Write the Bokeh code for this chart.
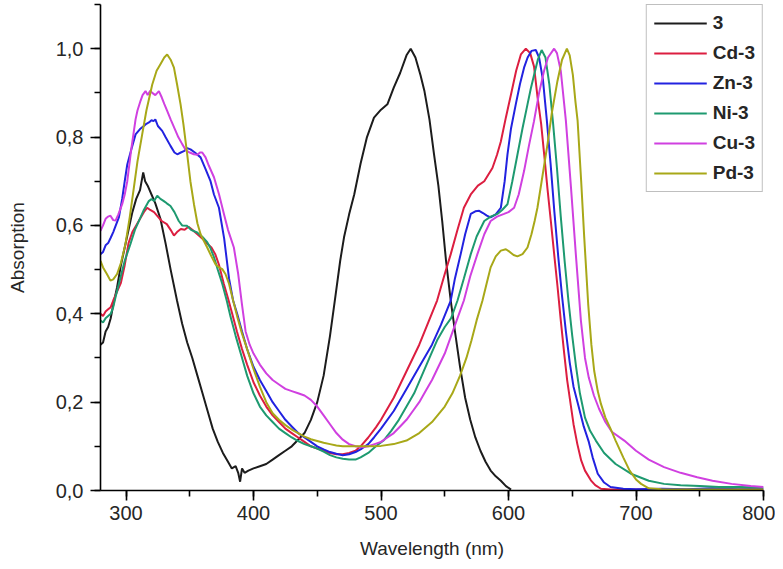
from bokeh.plotting import figure
from bokeh.models import Range1d, SingleIntervalTicker, CustomJSTickFormatter
from bokeh.embed import file_html
from bokeh.resources import INLINE

# ---- data ----
series_names = ["3", "Cd-3", "Zn-3", "Ni-3", "Cu-3", "Pd-3"]

wl_3 = [280, 282, 284, 286, 288, 290, 293, 296, 299, 302, 305, 308, 311, 313.5, 315, 317, 320, 323, 327, 331,
        335, 340, 344, 348, 352, 356, 360, 364, 368, 372, 376, 380, 383, 386, 388, 389.5, 391, 393, 396, 400,
        405, 410, 415, 420, 425, 430, 435, 440, 445, 450, 455, 460, 464.5, 468, 471, 475, 479, 484, 489, 494.5,
        500, 505, 510, 515, 520, 523.3, 527, 531, 534, 538, 541.6, 545, 548, 551, 554.7, 558, 562, 566, 570,
        574, 578, 582, 586, 590, 594, 598, 602]
abs_3 = [0.33, 0.335, 0.36, 0.37, 0.39, 0.42, 0.46, 0.51, 0.55, 0.59, 0.63, 0.66, 0.68, 0.72, 0.70, 0.69, 0.67,
         0.65, 0.615, 0.56, 0.50, 0.43, 0.378, 0.335, 0.30, 0.26, 0.22, 0.18, 0.14, 0.11, 0.085, 0.065, 0.05,
         0.055, 0.04, 0.02, 0.05, 0.04, 0.045, 0.05, 0.055, 0.06, 0.07, 0.08, 0.09, 0.10, 0.115, 0.13, 0.16,
         0.2, 0.26, 0.35, 0.445, 0.52, 0.573, 0.625, 0.67, 0.74, 0.80, 0.844, 0.862, 0.874, 0.912, 0.945,
         0.985, 1.0, 0.98, 0.94, 0.905, 0.84, 0.761, 0.69, 0.61, 0.52, 0.43, 0.36, 0.28, 0.21, 0.16, 0.12,
         0.09, 0.065, 0.045, 0.032, 0.022, 0.01, 0.002]

wl_cd = [280, 282, 284, 286, 288, 290, 293, 296, 299, 302, 305, 308, 311, 314, 316.6, 319, 322, 325, 328, 332,
         335, 337.6, 340, 343, 346, 349, 352, 356, 360, 364, 367, 370, 373, 376.7, 380, 383.3, 387, 391, 395,
         400, 405, 410, 415, 420, 425, 430, 435, 440, 445, 450, 455, 460, 465, 470, 475, 480, 484, 490, 496,
         500, 510, 520, 530, 537, 544, 550, 554.7, 560, 565, 570.4, 576, 581, 587.4, 591, 594, 598, 602, 606,
         609.7, 613.6, 617, 620, 622.8, 625.6, 628, 630.5, 633.2, 636, 638.5, 641, 643.7, 646, 648.5, 651, 654,
         657, 660, 664.6, 668, 672.5, 680, 700, 720, 740, 760, 780, 800]
abs_cd = [0.40, 0.395, 0.405, 0.41, 0.415, 0.43, 0.45, 0.47, 0.51, 0.56, 0.585, 0.60, 0.615, 0.63, 0.64, 0.635,
          0.63, 0.62, 0.61, 0.603, 0.59, 0.577, 0.585, 0.592, 0.59, 0.597, 0.59, 0.58, 0.57, 0.558, 0.55, 0.535,
          0.51, 0.468, 0.435, 0.40, 0.36, 0.32, 0.285, 0.245, 0.215, 0.19, 0.17, 0.155, 0.14, 0.13, 0.12, 0.11,
          0.10, 0.095, 0.09, 0.085, 0.082, 0.082, 0.085, 0.09, 0.10, 0.12, 0.143, 0.16, 0.21, 0.27, 0.33, 0.38,
          0.43, 0.49, 0.535, 0.59, 0.64, 0.67, 0.69, 0.70, 0.73, 0.76, 0.79, 0.845, 0.897, 0.95, 0.987, 1.0,
          0.99, 0.96, 0.89, 0.83, 0.76, 0.685, 0.61, 0.53, 0.46, 0.385, 0.31, 0.25, 0.2, 0.15, 0.105, 0.068,
          0.045, 0.023, 0.012, 0.004, 0.002, 0.002, 0.003, 0.002, 0.004, 0.002, 0.003]

wl_zn = [280, 282, 284, 286, 288, 290, 292, 294.4, 297, 299, 301, 304, 307.5, 311, 314, 316, 318, 320, 321.6,
         323, 325, 328.4, 331, 334.9, 338, 340.2, 343, 345.4, 348, 350.6, 354, 358.5, 362, 366.3, 369, 372.9,
         377, 380.8, 384, 387.3, 391, 395, 400, 405, 410, 415, 420, 425, 430, 435, 440, 445, 450, 455, 460,
         465, 470, 475, 480, 485, 490, 494.5, 500, 510, 520, 530, 540, 547, 554.7, 558, 562.5, 566, 570.4, 574,
         577, 580, 583, 586, 590, 594, 597, 599.2, 602, 605.7, 609, 612.2, 615, 618, 621.4, 624, 627, 630, 633,
         636, 639, 642, 645, 648, 651, 655, 659, 663, 666, 670, 675, 680, 690, 700, 720, 740, 760, 780, 800]
abs_zn = [0.535, 0.54, 0.555, 0.56, 0.572, 0.585, 0.60, 0.618, 0.66, 0.70, 0.738, 0.77, 0.806, 0.818, 0.825,
          0.83, 0.833, 0.838, 0.836, 0.84, 0.825, 0.814, 0.80, 0.78, 0.765, 0.761, 0.765, 0.768, 0.775, 0.772,
          0.765, 0.754, 0.73, 0.70, 0.67, 0.64, 0.57, 0.48, 0.43, 0.399, 0.36, 0.32, 0.28, 0.25, 0.225, 0.2,
          0.18, 0.16, 0.145, 0.13, 0.12, 0.11, 0.10, 0.093, 0.087, 0.083, 0.08, 0.082, 0.087, 0.095, 0.105,
          0.12, 0.14, 0.18, 0.23, 0.28, 0.33, 0.375, 0.43, 0.48, 0.535, 0.58, 0.626, 0.632, 0.633, 0.628,
          0.622, 0.618, 0.625, 0.64, 0.70, 0.761, 0.82, 0.874, 0.92, 0.957, 0.98, 0.995, 0.997, 0.98, 0.93,
          0.84, 0.74, 0.63, 0.53, 0.44, 0.36, 0.29, 0.235, 0.19, 0.145, 0.11, 0.075, 0.038, 0.018, 0.008,
          0.004, 0.003, 0.004, 0.003, 0.005, 0.003, 0.004]

wl_ni = [280, 282, 284, 286, 288, 290, 292, 295.7, 299, 303.5, 307, 311.4, 314, 317.9, 320, 322, 324.5, 327,
         329.7, 332, 334.9, 338, 341.4, 344, 347.9, 351, 355.8, 360, 363.7, 366, 369, 372, 375.5, 379, 382, 386,
         390, 395, 400, 405, 410, 415, 420, 425, 430, 435, 440, 445, 450, 455, 460, 465, 470, 475, 480, 484,
         490, 496, 502, 508, 514, 520, 526, 532, 538, 544, 550, 555, 560, 565, 570.4, 575, 581, 586, 591.3,
         595, 599.2, 603, 607, 611, 614.9, 617.5, 620, 623, 626, 629, 632, 635, 638, 641, 644, 647, 650, 653,
         656, 660, 664, 668.5, 675, 684, 696, 710, 722, 735, 750, 765, 780, 800]
abs_ni = [0.385, 0.38, 0.39, 0.395, 0.40, 0.415, 0.44, 0.482, 0.52, 0.558, 0.59, 0.618, 0.635, 0.655, 0.66,
          0.655, 0.667, 0.66, 0.655, 0.65, 0.644, 0.63, 0.61, 0.60, 0.599, 0.59, 0.584, 0.574, 0.562, 0.55,
          0.528, 0.50, 0.468, 0.43, 0.393, 0.35, 0.31, 0.26, 0.22, 0.19, 0.17, 0.155, 0.14, 0.13, 0.12, 0.112,
          0.105, 0.10, 0.095, 0.088, 0.08, 0.075, 0.072, 0.07, 0.07, 0.075, 0.085, 0.10, 0.113, 0.135, 0.16,
          0.19, 0.22, 0.26, 0.30, 0.34, 0.37, 0.39, 0.43, 0.48, 0.535, 0.575, 0.61, 0.62, 0.626, 0.635, 0.648,
          0.70, 0.76, 0.82, 0.874, 0.91, 0.94, 0.975, 0.997, 0.98, 0.92, 0.83, 0.73, 0.62, 0.52, 0.43, 0.35,
          0.28, 0.22, 0.165, 0.135, 0.113, 0.085, 0.06, 0.038, 0.022, 0.015, 0.012, 0.01, 0.008, 0.008, 0.007]

wl_cu = [280, 282, 284, 286, 287.8, 290, 291.8, 294, 297, 299, 301, 304, 307.5, 309, 311.4, 313, 315.3, 317,
         319, 320.6, 323, 325.8, 328, 330, 332.3, 335, 338.9, 341, 344.1, 347, 350, 353.2, 356, 358, 359.8,
         362.4, 365, 369, 373, 376.8, 380, 384.6, 388, 391, 393.8, 397, 400, 405, 410, 415, 420, 425, 430, 435,
         440, 445, 450, 455, 460, 465, 470, 475, 480, 485, 490, 495, 500, 505, 510, 515, 520, 525, 530, 535,
         540, 545, 550, 555, 560, 565, 570, 575.6, 581, 586, 591, 596.5, 600, 604.4, 608, 612.2, 616, 620, 624,
         627.9, 631, 635.8, 638, 641, 645, 649, 652.8, 656.8, 660, 663, 667, 671, 676, 681, 690.8, 700, 710,
         722, 735, 748, 760, 775, 790, 800]
abs_cu = [0.588, 0.60, 0.615, 0.62, 0.622, 0.612, 0.611, 0.625, 0.648, 0.67, 0.70, 0.77, 0.84, 0.86, 0.882,
          0.895, 0.904, 0.895, 0.905, 0.90, 0.895, 0.904, 0.89, 0.875, 0.859, 0.84, 0.814, 0.80, 0.784, 0.77,
          0.765, 0.761, 0.76, 0.765, 0.765, 0.754, 0.735, 0.709, 0.67, 0.626, 0.59, 0.55, 0.49, 0.42, 0.36,
          0.33, 0.31, 0.285, 0.265, 0.25, 0.24, 0.23, 0.225, 0.22, 0.215, 0.205, 0.19, 0.17, 0.15, 0.13, 0.115,
          0.105, 0.10, 0.098, 0.10, 0.105, 0.11, 0.12, 0.13, 0.145, 0.16, 0.18, 0.20, 0.225, 0.25, 0.28, 0.31,
          0.35, 0.39, 0.43, 0.485, 0.535, 0.58, 0.61, 0.62, 0.626, 0.63, 0.64, 0.67, 0.723, 0.78, 0.836, 0.90,
          0.95, 0.98, 1.0, 0.99, 0.95, 0.837, 0.686, 0.535, 0.384, 0.30, 0.255, 0.215, 0.185, 0.155, 0.133,
          0.113, 0.09, 0.07, 0.053, 0.04, 0.03, 0.022, 0.015, 0.01, 0.008]

wl_pd = [280, 282, 285, 287.8, 290, 293, 296, 299.6, 303, 306.2, 309, 312.7, 316, 320.6, 324, 327, 330, 332.3,
         335, 337.6, 340, 342.8, 345, 348, 350.5, 353.3, 356, 358.5, 361, 363.7, 367, 370.2, 373, 375.5, 378,
         380.8, 384, 387.3, 391, 395, 400, 405, 410, 415, 420, 425, 430, 435, 440, 445, 450, 455, 460, 465, 470,
         475, 480, 490, 500, 510, 520, 530, 540, 550, 556, 562, 567, 571, 575, 579.6, 583, 586, 590, 594, 597.9,
         601, 604, 607, 611, 614.9, 618, 620.5, 622.7, 626, 630.6, 634, 638.4, 642, 645.8, 648, 650.5, 652.5,
         654.2, 657, 659.4, 662.5, 665, 667.2, 670, 672.5, 676, 680, 684, 690, 695, 700, 704, 710, 720, 740, 800]
abs_pd = [0.52, 0.505, 0.49, 0.475, 0.478, 0.49, 0.515, 0.558, 0.62, 0.686, 0.745, 0.806, 0.86, 0.919, 0.95,
          0.965, 0.98, 0.987, 0.975, 0.957, 0.92, 0.874, 0.83, 0.761, 0.70, 0.648, 0.605, 0.58, 0.565, 0.55,
          0.53, 0.512, 0.505, 0.501, 0.49, 0.468, 0.43, 0.393, 0.355, 0.32, 0.275, 0.235, 0.20, 0.175, 0.16,
          0.148, 0.138, 0.13, 0.122, 0.116, 0.112, 0.108, 0.105, 0.102, 0.10, 0.10, 0.10, 0.10, 0.101, 0.105,
          0.113, 0.13, 0.155, 0.19, 0.22, 0.26, 0.30, 0.34, 0.385, 0.43, 0.47, 0.505, 0.53, 0.543, 0.546, 0.54,
          0.533, 0.53, 0.535, 0.55, 0.58, 0.61, 0.64, 0.70, 0.784, 0.855, 0.927, 0.975, 1.0, 0.985, 0.94, 0.88,
          0.837, 0.70, 0.573, 0.422, 0.33, 0.271, 0.225, 0.196, 0.165, 0.14, 0.113, 0.075, 0.045, 0.025, 0.015,
          0.005, 0.003, 0.002, 0.002]

x_ticks_interval = 100
y_ticks_interval = 0.2
x_label = "Wavelength (nm)"
y_label = "Absorption"

colors = ["#1c1c1c", "#dc1e40", "#2222e0", "#1e9a70", "#d040e0", "#a8a818"]
xs = [wl_3, wl_cd, wl_zn, wl_ni, wl_cu, wl_pd]
ys = [abs_3, abs_cd, abs_zn, abs_ni, abs_cu, abs_pd]

FONT = "Liberation Sans"

p = figure(width=775, height=561, output_backend="svg", toolbar_location=None,
           x_range=Range1d(280, 800), y_range=Range1d(0, 1.1),
           min_border_left=100, min_border_right=12, min_border_top=4, min_border_bottom=71)
p.outline_line_color = None
p.grid.visible = False
p.background_fill_color = "white"

for name, x, y, c in zip(series_names, xs, ys, colors):
    p.line(x, y, line_color=c, line_width=2, legend_label=name)

p.xaxis.ticker = SingleIntervalTicker(interval=x_ticks_interval, num_minor_ticks=2)
p.yaxis.ticker = SingleIntervalTicker(interval=y_ticks_interval, num_minor_ticks=2)
p.yaxis.formatter = CustomJSTickFormatter(code="return tick.toFixed(1).replace('.', ',');")

for ax in (p.xaxis, p.yaxis):
    ax.axis_line_color = "black"
    ax.axis_line_width = 1.6
    ax.major_tick_line_color = "black"
    ax.minor_tick_line_color = "black"
    ax.major_tick_line_width = 1.6
    ax.minor_tick_line_width = 1.6
    ax.major_tick_in = 0
    ax.major_tick_out = 10
    ax.minor_tick_in = 0
    ax.minor_tick_out = 6
    ax.major_label_text_font = FONT
    ax.major_label_text_font_size = "20px"
    ax.major_label_text_color = "#262626"
    ax.axis_label_text_font = FONT
    ax.axis_label_text_font_size = "19px"
    ax.axis_label_text_font_style = "normal"
    ax.axis_label_text_color = "#262626"

p.xaxis.axis_label = x_label
p.yaxis.axis_label = y_label
p.xaxis.major_label_standoff = 5
p.yaxis.major_label_standoff = 7
p.xaxis.axis_label_standoff = 15
p.yaxis.axis_label_standoff = 25

lg = p.legend[0]
lg.location = "top_right"
lg.margin = 0
lg.padding = 7
lg.spacing = 8
lg.glyph_width = 53
lg.glyph_height = 20
lg.label_height = 20
lg.label_standoff = 6
lg.label_text_font = FONT
lg.label_text_font_size = "19px"
lg.label_text_font_style = "bold"
lg.label_text_color = "#262626"
lg.border_line_color = "#808080"
lg.border_line_width = 1.5
lg.background_fill_color = "white"
lg.background_fill_alpha = 1.0

open("out.html", "w").write(file_html(p, INLINE))
